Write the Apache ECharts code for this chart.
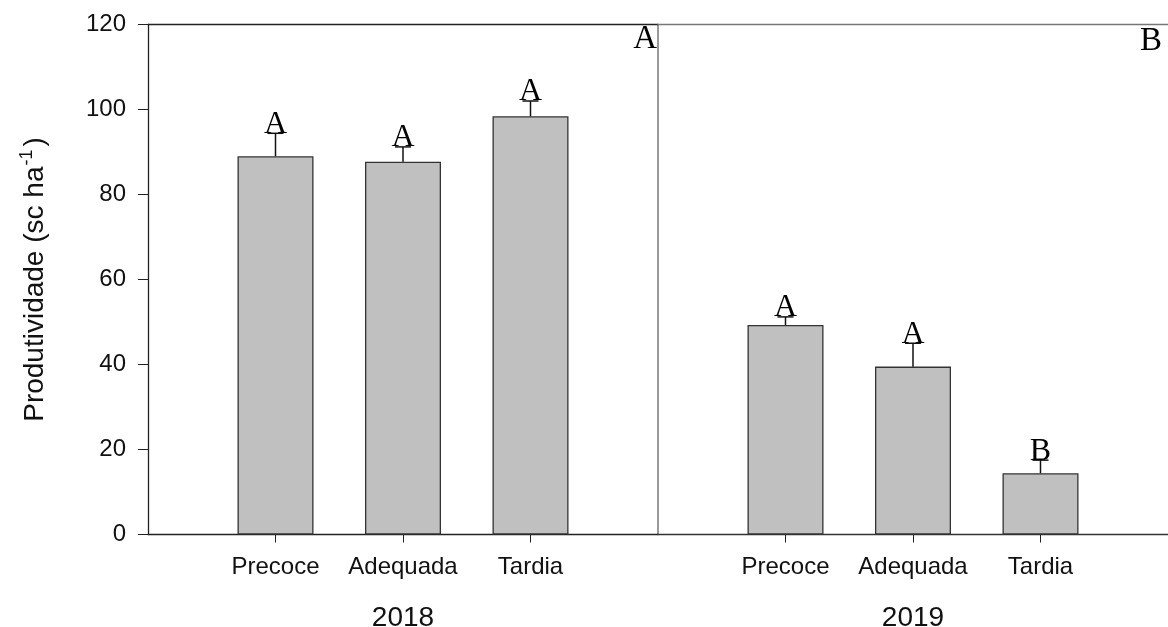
<!DOCTYPE html>
<html>
<head>
<meta charset="utf-8">
<script src="https://cdn.jsdelivr.net/npm/echarts@6/dist/echarts.min.js"></script>
<style>
  html, body { margin: 0; padding: 0; background: #fff; }
  #chart { width: 1168px; height: 627px; }
</style>
</head>
<body>
<div id="chart"></div>
<script>
// dados (sc ha-1)
const categories = ['Precoce', 'Adequada', 'Tardia'];
const years = ['2018', '2019'];
const yield2018 = [89.0, 87.7, 98.4];
const se2018 = [5.4, 3.5, 3.6];
const letters2018 = ['A', 'A', 'A'];
const yield2019 = [49.3, 39.5, 14.4];
const se2019 = [1.9, 5.5, 3.1];
const letters2019 = ['A', 'A', 'B'];
const panelLetters = ['A', 'B'];
const yTicks = { min: 0, max: 120, interval: 20 };

const sans = 'Liberation Sans';
const serif = 'Liberation Serif';
const slots = ['', ...categories, ''];   // espaço vazio nas pontas

function barData(vals) {
  return ['-', ...vals, '-'];
}
function errData(vals, se) {
  return vals.map((v, i) => [i + 1, v, v + se[i]]);
}
function errRender(letters) {
  return function (params, api) {
    const lo = api.coord([api.value(0), api.value(1)]);
    const hi = api.coord([api.value(0), api.value(2)]);
    return {
      type: 'group',
      children: [
        { type: 'line', shape: { x1: lo[0], y1: lo[1], x2: hi[0], y2: hi[1] },
          style: { stroke: '#111', lineWidth: 1.5 } },
        { type: 'line', shape: { x1: hi[0] - 8, y1: hi[1], x2: hi[0] + 8, y2: hi[1] },
          style: { stroke: '#111', lineWidth: 1.5 } },
        { type: 'text', x: hi[0], y: hi[1] + 7,
          style: { text: letters[params.dataIndex], fontSize: 32, fontFamily: serif,
                   fill: '#000', align: 'center', verticalAlign: 'bottom' } }
      ]
    };
  };
}

const chart = echarts.init(document.getElementById('chart'));

const bottomAxis = (grid, year, color) => ({
  type: 'category', gridIndex: grid, data: slots, boundaryGap: false,
  position: 'bottom',
  axisLine: { lineStyle: { color: color, width: 1.3 } },
  axisTick: { length: 8, lineStyle: { color: '#222' }, interval: (i) => i >= 1 && i <= 3 },
  axisLabel: { interval: 0, margin: 21, fontSize: 24, fontFamily: sans, color: '#111' },
  name: year, nameLocation: 'middle', nameGap: 70,
  nameTextStyle: { fontSize: 28, fontFamily: sans, color: '#111' }
});
const topAxis = (grid, color) => ({
  type: 'category', gridIndex: grid, data: slots, boundaryGap: false,
  position: 'top',
  axisLine: { lineStyle: { color: color, width: 1.3 } },
  axisTick: { show: false }, axisLabel: { show: false }
});

chart.setOption({
  backgroundColor: '#fff',
  animation: false,
  grid: [
    { left: 148, right: 510, top: 24.5, bottom: 92.5, outerBoundsMode: 'none', containLabel: false },
    { left: 658, right: 0, top: 24.5, bottom: 92.5, outerBoundsMode: 'none', containLabel: false }
  ],
  xAxis: [
    bottomAxis(0, years[0], '#222'),
    bottomAxis(1, years[1], '#333'),
    topAxis(0, '#222'),
    topAxis(1, '#777')
  ],
  yAxis: [
    {
      type: 'value', gridIndex: 0, min: yTicks.min, max: yTicks.max, interval: yTicks.interval,
      axisLine: { show: true, lineStyle: { color: '#222', width: 1.3 } },
      axisTick: { show: true, length: 10, lineStyle: { color: '#222' } },
      axisLabel: { margin: 22, fontSize: 24, fontFamily: sans, color: '#111' },
      splitLine: { show: false },
      name: '{a|Produtividade (sc ha}{s|-1}{a|)}',
      nameLocation: 'middle', nameRotate: 90, nameGap: 96,
      nameTextStyle: {
        rich: {
          a: { fontSize: 28, fontFamily: sans, color: '#111', lineHeight: 34 },
          s: { fontSize: 18, fontFamily: sans, color: '#111', verticalAlign: 'top', lineHeight: 34, padding: [0, 3, 0, 1] }
        }
      }
    },
    {
      type: 'value', gridIndex: 1, min: yTicks.min, max: yTicks.max, interval: yTicks.interval,
      axisLine: { show: true, lineStyle: { color: '#777', width: 1.5 } },
      axisTick: { show: false }, axisLabel: { show: false }, splitLine: { show: false }
    }
  ],
  series: [
    {
      type: 'bar', xAxisIndex: 0, yAxisIndex: 0, data: barData(yield2018), barWidth: 76,
      itemStyle: { color: '#c0c0c0', borderColor: '#333', borderWidth: 1.3 }
    },
    {
      type: 'bar', xAxisIndex: 1, yAxisIndex: 1, data: barData(yield2019), barWidth: 76,
      itemStyle: { color: '#c0c0c0', borderColor: '#333', borderWidth: 1.3 }
    },
    {
      type: 'custom', xAxisIndex: 0, yAxisIndex: 0, data: errData(yield2018, se2018),
      renderItem: errRender(letters2018), z: 5
    },
    {
      type: 'custom', xAxisIndex: 1, yAxisIndex: 1, data: errData(yield2019, se2019),
      renderItem: errRender(letters2019), z: 5
    }
  ],
  graphic: [
    { type: 'text', right: 511, top: 23,
      style: { text: panelLetters[0], fontSize: 33, fontFamily: serif, fill: '#000' } },
    { type: 'text', right: 6, top: 25,
      style: { text: panelLetters[1], fontSize: 33, fontFamily: serif, fill: '#000' } }
  ]
});
</script>
</body>
</html>
